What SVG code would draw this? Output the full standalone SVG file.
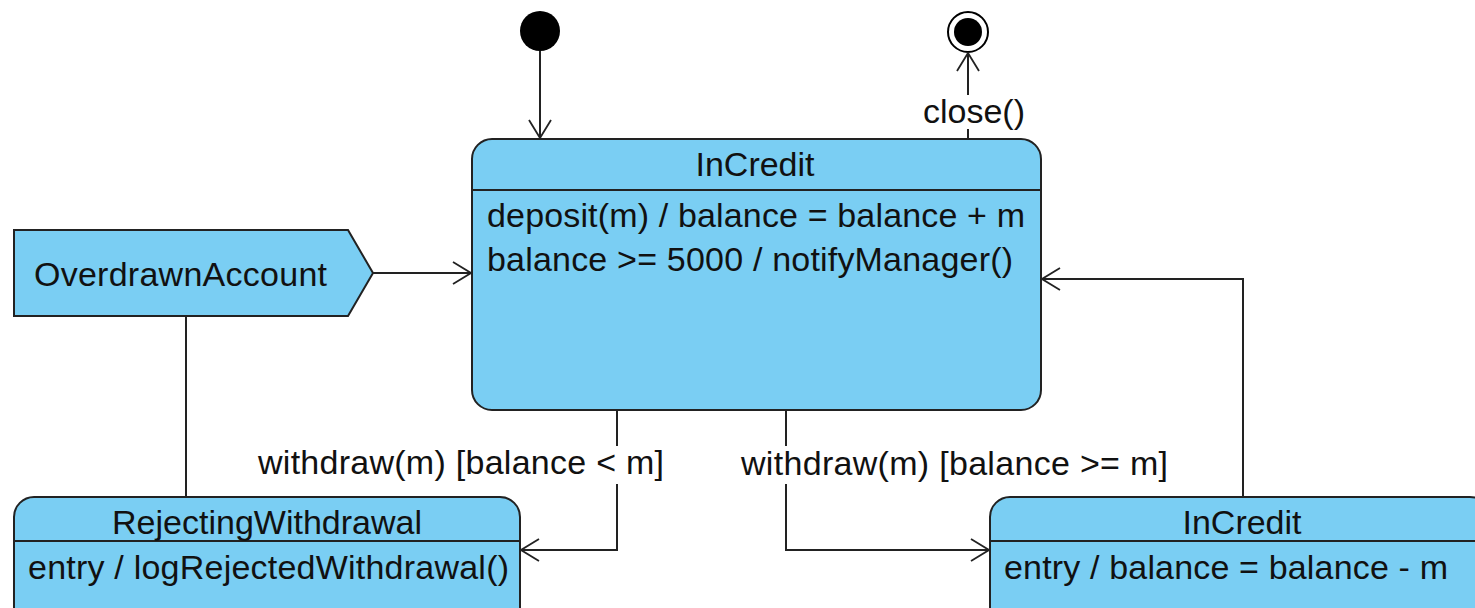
<svg xmlns="http://www.w3.org/2000/svg" width="1475" height="608" viewBox="0 0 1475 608">
  <defs>
    <marker id="open" viewBox="0 0 20 24" refX="19" refY="12" markerWidth="20" markerHeight="24" markerUnits="userSpaceOnUse" orient="auto">
      <path d="M1,1 L19,12 L1,23" fill="none" stroke="#222" stroke-width="1.8"/>
    </marker>
  </defs>
  <style>
    .state { fill: #7ACEF3; stroke: #222; stroke-width: 2; }
    .sep { stroke: #222; stroke-width: 2; }
    .edge { fill: none; stroke: #222; stroke-width: 2; }
    text { font-family: "Liberation Sans", Arial, sans-serif; font-size: 34px; fill: #111; }
    .mid { text-anchor: middle; }
  </style>
  <rect width="1475" height="608" fill="#fff"/>

  <!-- pseudo states -->
  <g id="initial">
    <circle cx="540" cy="31" r="20" fill="#000"/>
  </g>
  <g id="final">
    <circle cx="968" cy="32" r="20" fill="#fff" stroke="#000" stroke-width="2"/>
    <circle cx="968" cy="32" r="14" fill="#000"/>
  </g>

  <!-- states -->
  <g id="incredit-main">
    <rect class="state" x="472" y="139" width="569" height="271" rx="20"/>
    <line class="sep" x1="472" y1="190" x2="1041" y2="190"/>
    <text class="mid" x="755" y="176">InCredit</text>
    <text x="487" y="227" textLength="538">deposit(m) / balance = balance + m</text>
    <text x="487" y="271" textLength="526">balance &gt;= 5000 / notifyManager()</text>
  </g>
  <g id="overdrawn-account">
    <polygon class="state" points="14,230 348,230 373,273 348,316 14,316"/>
    <text x="34" y="286" textLength="293">OverdrawnAccount</text>
  </g>
  <g id="rejecting-withdrawal">
    <rect class="state" x="14" y="497" width="506" height="130" rx="20"/>
    <line class="sep" x1="14" y1="541" x2="520" y2="541"/>
    <text class="mid" x="267" y="534">RejectingWithdrawal</text>
    <text x="28" y="579" textLength="481">entry / logRejectedWithdrawal()</text>
  </g>
  <g id="incredit-withdraw">
    <rect class="state" x="990" y="497" width="500" height="130" rx="20"/>
    <line class="sep" x1="990" y1="541" x2="1490" y2="541"/>
    <text class="mid" x="1242" y="534">InCredit</text>
    <text x="1004" y="579" textLength="444">entry / balance = balance - m</text>
  </g>

  <!-- transitions -->
  <g id="connectors">
    <path class="edge" d="M540,51 L540,138" marker-end="url(#open)"/>
    <path class="edge" d="M968,139 L968,129"/>
    <path class="edge" d="M968,95 L968,53" marker-end="url(#open)"/>
    <path class="edge" d="M373,273 L471,273" marker-end="url(#open)"/>
    <path class="edge" d="M186,316 L186,497"/>
    <path class="edge" d="M617,410 L617,446"/>
    <path class="edge" d="M617,484 L617,550 L521,550" marker-end="url(#open)"/>
    <path class="edge" d="M786,410 L786,446"/>
    <path class="edge" d="M786,484 L786,550 L989,550" marker-end="url(#open)"/>
    <path class="edge" d="M1243,497 L1243,279 L1042,279" marker-end="url(#open)"/>
    <text class="mid" x="974" y="123">close()</text>
    <text x="258" y="474" textLength="406">withdraw(m) [balance &lt; m]</text>
    <text x="741" y="475" textLength="427">withdraw(m) [balance &gt;= m]</text>
  </g>
</svg>
